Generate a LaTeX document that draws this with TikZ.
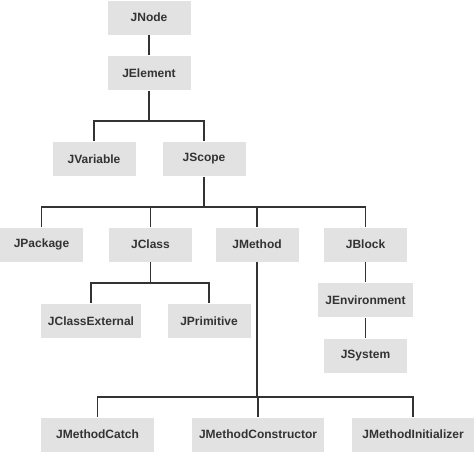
\documentclass[tikz,border=0pt]{standalone}
\usepackage{fontspec}
\setmainfont{Liberation Sans}
\definecolor{boxgray}{HTML}{E2E2E2}
\definecolor{linegray}{HTML}{333333}

\begin{document}
\begin{tikzpicture}[x=1pt,y=-1pt,
					line width=1.5pt,
					class node/.style={rectangle,fill=boxgray,text=linegray,
						minimum height=34pt,minimum width=83pt,inner sep=2pt,
						font=\fontsize{12}{14}\selectfont\bfseries},
					link/.style={draw=linegray,line width=1.5pt}]

  \useasboundingbox (0,0) rectangle (474,451);

  \node[class node] (JNode) at (149,17.5) {JNode};
  \node[class node] (JElement) at (149,73) {JElement};
  \node[class node] (JVariable) at (94,159) {JVariable};
  \node[class node] (JScope) at (204,159) {JScope};

  \node[class node] (JPackage) at (41.5,244.5) {JPackage};
  \node[class node] (JClass) at (150.5,244.5) {JClass};
  \node[class node] (JMethod) at (257,244.5) {JMethod};
  \node[class node] (JBlock) at (365.5,244.5) {JBlock};

  \node[class node,minimum width=100pt] (JClassExternal) at (91,321) {JClassExternal};
  \node[class node] (JPrimitive) at (209,321) {JPrimitive};
  \node[class node,minimum width=95pt] (JEnvironment) at (365.5,300) {JEnvironment};
  \node[class node] (JSystem) at (365.5,355.5) {JSystem};

  \node[class node,minimum width=113pt] (JMethodCatch) at (97.5,434.5) {JMethodCatch};
  \node[class node,minimum width=132pt] (JMethodConstructor) at (258,434.5) {JMethodConstructor};
  \node[class node,minimum width=122pt] (JMethodInitializer) at (413,434.5) {JMethodInitializer};

  \draw[link] (JNode.south) -- (JElement.north);
  \draw[link] (JBlock.south) -- (JEnvironment.north);
  \draw[link] (JEnvironment.south) -- (JSystem.north);

  % tree branches
  \foreach \child in {JVariable,JScope}
    \draw[link] (JElement.south) -- (JElement.south |- 0,121) -| (\child.north);
  \foreach \child in {JPackage,JClass,JMethod,JBlock}
    \draw[link] (JScope.south) -- (JScope.south |- 0,207) -| (\child.north);
  \foreach \child in {JClassExternal,JPrimitive}
    \draw[link] (JClass.south) -- (JClass.south |- 0,283) -| (\child.north);
  \foreach \child in {JMethodCatch,JMethodConstructor,JMethodInitializer}
    \draw[link] (JMethod.south) -- (JMethod.south |- 0,397) -| (\child.north);
\end{tikzpicture}
\end{document}
